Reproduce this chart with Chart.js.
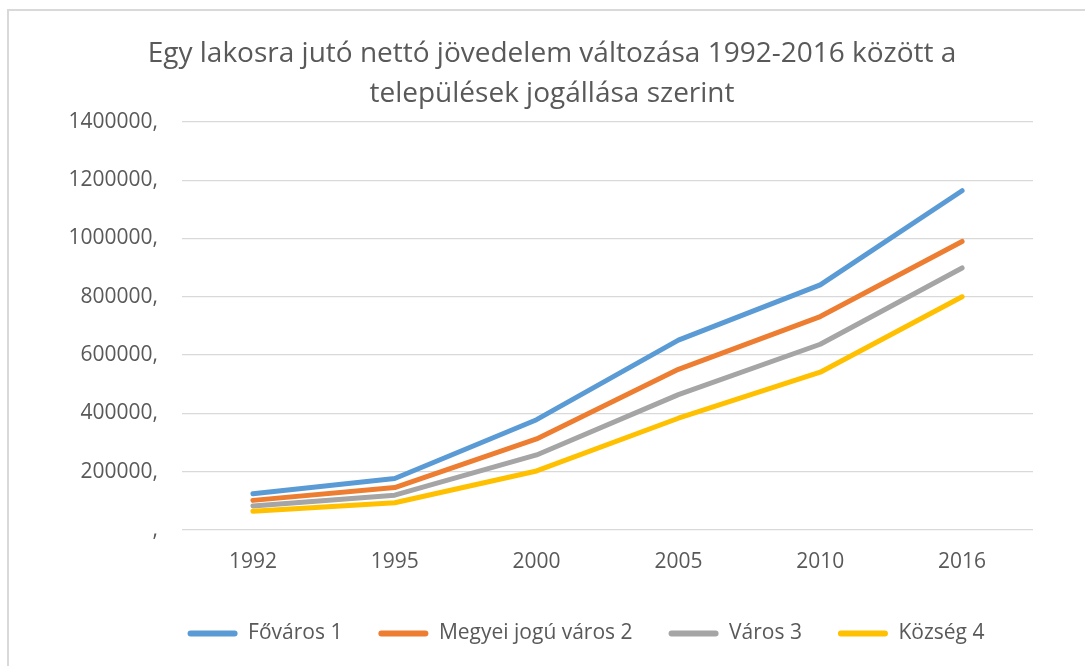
<!DOCTYPE html>
<html>
<head>
<meta charset="utf-8">
<script src="https://cdn.jsdelivr.net/npm/chart.js@4/dist/chart.umd.min.js"></script>
<style>
    html, body { margin: 0; padding: 0; background: #fff; }
    #wrap { position: relative; width: 1085px; height: 666px; }
</style>
</head>
<body>
<div id="wrap"><canvas id="incomeChart" width="1085" height="666"></canvas></div>
<script>
// years on the x axis
const years = ["1992", "1995", "2000", "2005", "2010", "2016"];

// net income per inhabitant
const fovaros = [124000, 176000, 378000, 651000, 841000, 1164000];
const megyeiJoguVaros = [101000, 145000, 312000, 551000, 732000, 990000];
const varos = [82000, 119000, 257000, 464000, 637000, 899000];
const kozseg = [63500, 93000, 202000, 383000, 541000, 800000];

const seriesNames = ["Főváros 1", "Megyei jogú város 2", "Város 3", "Község 4"];
const seriesColors = ["#5b9bd5", "#ed7d31", "#a5a5a5", "#ffc000"];

const yMin = 0;
const yMax = 1400000;
const yStep = 200000;

const textColor = "#595959";
const fontFamily = "'Open Sans', sans-serif";

// light frame on the left and top edge, like the original picture
const framePlugin = {
    id: "frame",
    beforeDraw(chart) {
        const ctx = chart.ctx;
        ctx.save();
        ctx.fillStyle = "#fff";
        ctx.fillRect(0, 0, chart.width, chart.height);
        ctx.strokeStyle = "#d9d9d9";
        ctx.lineWidth = 2;
        ctx.beginPath();
        ctx.moveTo(8, chart.height);
        ctx.lineTo(8, 10);
        ctx.lineTo(chart.width, 10);
        ctx.stroke();
        ctx.restore();
    }
};

// the title and the legend are centred a bit right of the plot in the original
const centerPlugin = {
    id: "centerBoxes",
    afterLayout(chart) {
        const move = (box, center) => {
            if (!box) return;
            const dx = center - (box.left + box.right) / 2;
            box.left += dx;
            box.right += dx;
        };
        move(chart.titleBlock, 552);
        move(chart.legend, 586);
    }
};

const allSeries = [fovaros, megyeiJoguVaros, varos, kozseg];

const datasets = allSeries.map((values, i) => ({
    label: seriesNames[i],
    data: values,
    borderColor: seriesColors[i],
    backgroundColor: seriesColors[i],
    borderWidth: 5,
    borderCapStyle: "round",
    borderJoinStyle: "round",
    pointRadius: 0,
    tension: 0,
    fill: false
}));

const ctx = document.getElementById("incomeChart").getContext("2d");

new Chart(ctx, {
    type: "line",
    data: {
        labels: years,
        datasets: datasets.slice().reverse() // draw Főváros on top
    },
    options: {
        responsive: false,
        animation: false,
        layout: {
            padding: { left: 8, right: 52, top: 0, bottom: 12 }
        },
        plugins: {
            title: {
                display: true,
                text: [
                    "Egy lakosra jutó nettó jövedelem változása 1992-2016 között a",
                    "települések jogállása szerint"
                ],
                color: textColor,
                font: { family: fontFamily, size: 28, weight: "normal", lineHeight: 40 / 28 },
                padding: { top: 34, bottom: 8 }
            },
            legend: {
                position: "bottom",
                reverse: true,
                labels: {
                    color: textColor,
                    font: { family: fontFamily, size: 21 },
                    boxWidth: 50,
                    boxHeight: 6,
                    padding: 36,
                    useBorderRadius: true,
                    borderRadius: 3,
                    generateLabels(chart) {
                        const items = Chart.defaults.plugins.legend.labels.generateLabels(chart);
                        items.forEach(item => { item.lineWidth = 0; });
                        return items;
                    }
                }
            },
            tooltip: { enabled: false }
        },
        scales: {
            x: {
                offset: true,
                grid: { display: false },
                border: { display: false },
                ticks: {
                    color: textColor,
                    font: { family: fontFamily, size: 21 },
                    padding: 12
                }
            },
            y: {
                min: yMin,
                max: yMax,
                afterFit(scale) { scale.width = 174; },
                border: { display: false },
                grid: { color: "#d9d9d9", lineWidth: 1.3, drawTicks: false },
                ticks: {
                    stepSize: yStep,
                    color: textColor,
                    font: { family: fontFamily, size: 21 },
                    padding: 24,
                    callback: (value) => value === 0 ? "," : value + ","
                }
            }
        }
    },
    plugins: [framePlugin, centerPlugin]
});
</script>
</body>
</html>
